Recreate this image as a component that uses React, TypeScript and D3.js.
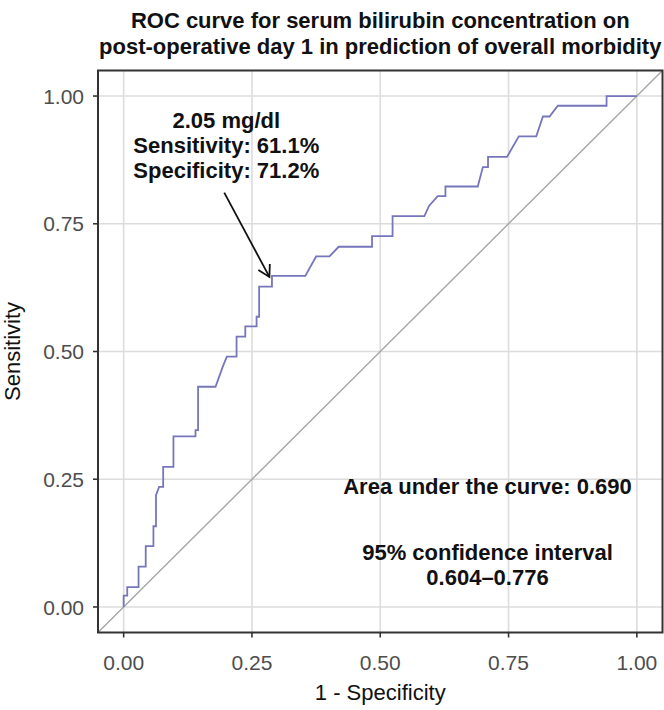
import React from "react";
import * as d3 from "d3";

const fpr = [0, 0, 0.007, 0.007, 0.029, 0.029, 0.043, 0.043, 0.058, 0.058, 0.063, 0.063, 0.069, 0.077, 0.077, 0.097, 0.097, 0.14, 0.14, 0.145, 0.145, 0.179, 0.193, 0.201, 0.22, 0.22, 0.237, 0.237, 0.259, 0.259, 0.264, 0.264, 0.289, 0.289, 0.354, 0.375, 0.401, 0.419, 0.484, 0.484, 0.524, 0.524, 0.586, 0.595, 0.612, 0.627, 0.627, 0.69, 0.7, 0.71, 0.71, 0.747, 0.77, 0.804, 0.817, 0.83, 0.846, 0.941, 0.941, 1.0];
const tpr = [0, 0.022, 0.022, 0.039, 0.039, 0.079, 0.079, 0.119, 0.119, 0.158, 0.158, 0.219, 0.235, 0.235, 0.274, 0.274, 0.334, 0.334, 0.346, 0.346, 0.431, 0.431, 0.47, 0.49, 0.49, 0.529, 0.529, 0.549, 0.549, 0.568, 0.568, 0.627, 0.627, 0.648, 0.648, 0.686, 0.686, 0.705, 0.705, 0.726, 0.726, 0.765, 0.765, 0.785, 0.804, 0.804, 0.823, 0.823, 0.861, 0.861, 0.881, 0.881, 0.921, 0.921, 0.96, 0.96, 0.981, 0.981, 1.0, 1.0];

const ticks = [0, 0.25, 0.5, 0.75, 1];
const tickLabels = ["0.00", "0.25", "0.50", "0.75", "1.00"];

const titleLines = [
  "ROC curve for serum bilirubin concentration on",
  "post-operative day 1 in prediction of overall morbidity",
];
const cutoffLines = ["2.05 mg/dl", "Sensitivity: 61.1%", "Specificity: 71.2%"];
const aucLines = ["Area under the curve: 0.690", "95% confidence interval", "0.604\u20130.776"];
const aucLineOffsets = [0, 66, 91];
const arrowFrom = [0.196, 0.811];
const arrowTo = [0.284, 0.646];
const cutoffLabelPos = [0.2, 0.937];
const aucLabelPos = [0.709, 0.222];

const W = 664;
const H = 710;
const L = 98, R = 662.5, T = 70.5, B = 632.5;
const font = "'Liberation Sans', Arial, Helvetica, sans-serif";

export default function App() {
  const x = d3.scaleLinear().domain([-0.05, 1.05]).range([L, R]);
  const y = d3.scaleLinear().domain([-0.05, 1.05]).range([B, T]);
  const pts: [number, number][] = fpr.map((f, i) => [f, tpr[i]]);
  const line = d3.line<[number, number]>().x((d) => x(d[0])).y((d) => y(d[1]));

  const ax0 = x(arrowFrom[0]), ay0 = y(arrowFrom[1]);
  const ax1 = x(arrowTo[0]), ay1 = y(arrowTo[1]);
  const ang = Math.atan2(ay1 - ay0, ax1 - ax0);
  const hl = 13, ha = (30 * Math.PI) / 180;
  const head = `M${ax1 - hl * Math.cos(ang - ha)},${ay1 - hl * Math.sin(ang - ha)}L${ax1},${ay1}L${ax1 - hl * Math.cos(ang + ha)},${ay1 - hl * Math.sin(ang + ha)}`;

  const cx = (L + R) / 2;
  return (
    <svg width={W} height={H} style={{ position: "absolute", left: 0, top: 0, background: "#fff" }} fontFamily={font}>
      <rect x={0} y={0} width={W} height={H} fill="#fff" />
      {titleLines.map((t, i) => (
        <text key={t} x={cx} y={28 + i * 26} textAnchor="middle" fontWeight="bold" fontSize={22} fill="#111">
          {t}
        </text>
      ))}
      <clipPath id="panel">
        <rect x={L} y={T} width={R - L} height={B - T} />
      </clipPath>
      <g>
        {ticks.map((t) => (
          <line key={"gx" + t} x1={x(t)} x2={x(t)} y1={T} y2={B} stroke="#dcdcdc" strokeWidth={1.6} />
        ))}
        {ticks.map((t) => (
          <line key={"gy" + t} x1={L} x2={R} y1={y(t)} y2={y(t)} stroke="#dcdcdc" strokeWidth={1.6} />
        ))}
      </g>
      <g clipPath="url(#panel)">
        <line x1={x(-0.05)} y1={y(-0.05)} x2={x(1.05)} y2={y(1.05)} stroke="#a6a6a6" strokeWidth={1.4} />
        <path d={line(pts) || ""} fill="none" stroke="#7676ba" strokeWidth={1.8} />
      </g>
      <line x1={ax0} y1={ay0} x2={ax1} y2={ay1} stroke="#111" strokeWidth={1.8} />
      <path d={head} fill="none" stroke="#111" strokeWidth={1.8} />
      {cutoffLines.map((t, i) => (
        <text key={t} x={x(cutoffLabelPos[0])} y={y(cutoffLabelPos[1]) + i * 25} textAnchor="middle" fontWeight="bold" fontSize={22} fill="#111">
          {t}
        </text>
      ))}
      {aucLines.map((t, i) => (
        <text key={"a" + i} x={x(aucLabelPos[0])} y={y(aucLabelPos[1]) + aucLineOffsets[i]} textAnchor="middle" fontWeight="bold" fontSize={22} fill="#111">
          {t}
        </text>
      ))}
      <rect x={L} y={T} width={R - L} height={B - T} fill="none" stroke="#333" strokeWidth={2} />
      {ticks.map((t, i) => (
        <g key={"tx" + t}>
          <line x1={x(t)} x2={x(t)} y1={B} y2={B + 5} stroke="#333" strokeWidth={1.6} />
          <text x={x(t)} y={B + 37} textAnchor="middle" fontSize={21} fill="#4d4d4d">
            {tickLabels[i]}
          </text>
        </g>
      ))}
      {ticks.map((t, i) => (
        <g key={"ty" + t}>
          <line x1={L - 5} x2={L} y1={y(t)} y2={y(t)} stroke="#333" strokeWidth={1.6} />
          <text x={L - 14} y={y(t)} dy="0.36em" textAnchor="end" fontSize={21} fill="#4d4d4d">
            {tickLabels[i]}
          </text>
        </g>
      ))}
      <text x={cx} y={700} textAnchor="middle" fontSize={22} fill="#111">
        1 - Specificity
      </text>
      <text transform={`translate(20,${(T + B) / 2}) rotate(-90)`} textAnchor="middle" fontSize={22} fill="#111">
        Sensitivity
      </text>
    </svg>
  );
}
